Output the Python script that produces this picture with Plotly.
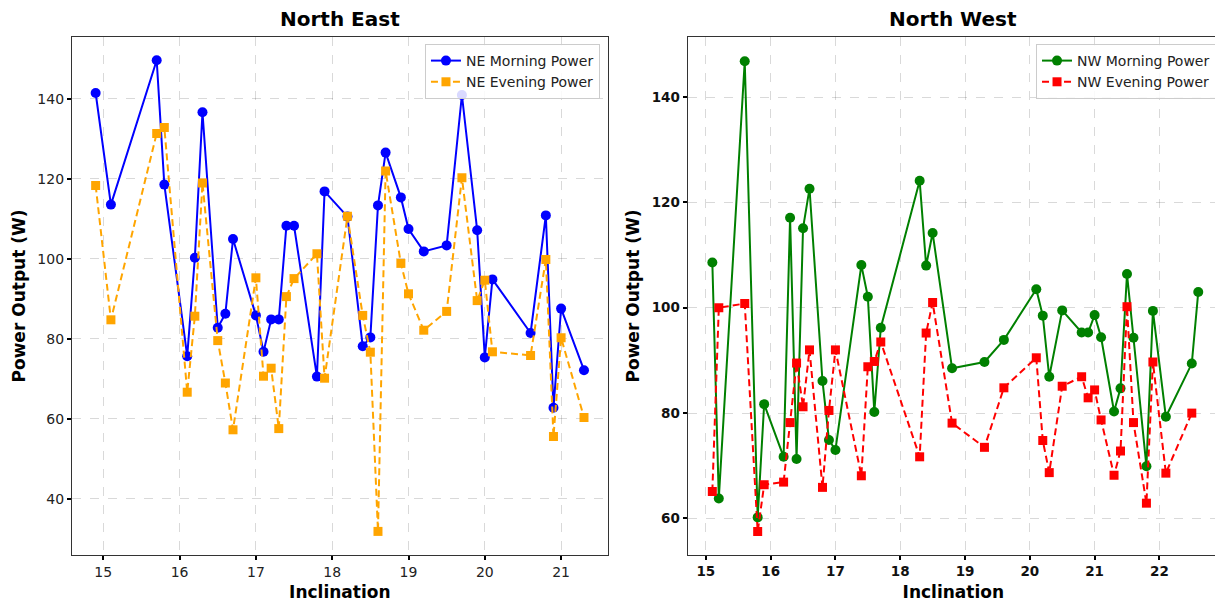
import plotly.graph_objects as go

# ---- North East data ----
ne_x = [14.9, 15.1, 15.7, 15.8, 16.1, 16.2, 16.3, 16.5, 16.6, 16.7, 17.0, 17.1, 17.2, 17.3,
        17.4, 17.5, 17.8, 17.9, 18.2, 18.4, 18.5, 18.6, 18.7, 18.9, 19.0, 19.2, 19.5, 19.7,
        19.9, 20.0, 20.1, 20.6, 20.8, 20.9, 21.0, 21.3]
ne_morning = [141.4, 113.5, 149.6, 118.5, 75.6, 100.2, 136.6, 82.7, 86.2, 104.9, 85.8, 76.7,
              84.8, 84.8, 108.2, 108.2, 70.5, 116.8, 110.5, 78.1, 80.3, 113.3, 126.5, 115.3,
              107.4, 101.8, 103.3, 140.9, 107.1, 75.3, 94.8, 81.4, 110.8, 62.7, 87.5, 72.1]
ne_evening = [118.3, 84.7, 131.3, 132.8, 66.6, 85.6, 118.9, 79.5, 68.9, 57.2, 95.2, 70.6,
              72.6, 57.5, 90.5, 95.0, 101.2, 70.1, 110.6, 85.8, 76.6, 31.8, 121.9, 98.8,
              91.2, 82.1, 86.8, 120.2, 89.5, 94.6, 76.7, 75.8, 99.8, 55.5, 80.2, 60.3]

# ---- North West data ----
nw_x_morning = [15.1, 15.2, 15.6, 15.8, 15.9, 16.2, 16.3, 16.4, 16.5, 16.6, 16.8, 16.9, 17.0,
                17.4, 17.5, 17.6, 17.7, 18.3, 18.4, 18.5, 18.8, 19.3, 19.6, 20.1, 20.2, 20.3,
                20.5, 20.8, 20.9, 21.0, 21.1, 21.3, 21.4, 21.5, 21.6, 21.8, 21.9, 22.1, 22.5, 22.6]
nw_morning = [108.6, 63.8, 146.8, 60.2, 81.7, 71.7, 117.1, 71.3, 115.1, 122.6, 86.1, 74.9, 73.0,
              108.1, 102.1, 80.2, 96.2, 124.1, 108.0, 114.2, 88.5, 89.7, 93.9, 103.5, 98.5, 86.9,
              99.5, 95.3, 95.3, 98.6, 94.4, 80.3, 84.7, 106.4, 94.3, 69.9, 99.4, 79.3, 89.4, 103.0]
nw_x_evening = [15.1, 15.2, 15.6, 15.8, 15.9, 16.2, 16.3, 16.4, 16.5, 16.6, 16.8, 16.9, 17.0,
                17.4, 17.5, 17.6, 17.7, 18.3, 18.4, 18.5, 18.8, 19.3, 19.6, 20.1, 20.2, 20.3,
                20.5, 20.8, 20.9, 21.0, 21.1, 21.3, 21.4, 21.5, 21.6, 21.8, 21.9, 22.1, 22.5]
nw_evening = [65.1, 100.0, 100.8, 57.5, 66.4, 66.9, 78.2, 89.5, 81.2, 92.0, 65.9, 80.5, 92.0,
              68.1, 88.8, 89.8, 93.5, 71.7, 95.2, 101.0, 78.1, 73.5, 84.8, 90.5, 74.8, 68.7,
              85.1, 86.9, 82.9, 84.4, 78.7, 68.2, 72.8, 100.2, 78.2, 62.9, 89.7, 68.6, 80.0]

FONT = "DejaVu Sans"

fig = go.Figure()

fig.add_trace(go.Scatter(x=ne_x, y=ne_morning, mode="lines+markers", name="NE Morning Power",
                         line=dict(color="blue", width=2),
                         marker=dict(symbol="circle", size=10, color="blue"),
                         xaxis="x", yaxis="y", legend="legend"))
fig.add_trace(go.Scatter(x=ne_x, y=ne_evening, mode="lines+markers", name="NE Evening Power",
                         line=dict(color="orange", width=2, dash="7px,4px"),
                         marker=dict(symbol="square", size=9, color="orange"),
                         xaxis="x", yaxis="y", legend="legend"))
fig.add_trace(go.Scatter(x=nw_x_morning, y=nw_morning, mode="lines+markers", name="NW Morning Power",
                         line=dict(color="green", width=2),
                         marker=dict(symbol="circle", size=10, color="green"),
                         xaxis="x2", yaxis="y2", legend="legend2"))
fig.add_trace(go.Scatter(x=nw_x_evening, y=nw_evening, mode="lines+markers", name="NW Evening Power",
                         line=dict(color="red", width=2, dash="7px,4px"),
                         marker=dict(symbol="square", size=9, color="red"),
                         xaxis="x2", yaxis="y2", legend="legend2"))

grid = "rgba(0,0,0,0.15)"
frame = "#333333"

def axis_common():
    return dict(showline=True, linecolor=frame, linewidth=1.2, mirror=True,
                ticks="outside", ticklen=4, tickwidth=1.5, tickcolor="black",
                showgrid=True, gridcolor=grid, griddash="dash", gridwidth=1,
                zeroline=False)

tick_norm = dict(family=FONT, size=14, color="#222")
tick_bold = dict(family=FONT, size=13.5, color="#111", weight="bold")
title_font = dict(family=FONT, size=17, color="black", weight="bold")

fig.update_layout(
    width=1215, height=596,
    margin=dict(l=64, r=4, t=29, b=49),
    paper_bgcolor="white", plot_bgcolor="white",
    font=dict(family=FONT),
    xaxis=dict(domain=[0, 0.467], range=[14.59, 21.61], dtick=1, tick0=15,
               tickfont=tick_norm, title=dict(text="Inclination", font=title_font, standoff=7),
               anchor="y", **axis_common()),
    yaxis=dict(domain=[0, 1], range=[25.9, 155.4], dtick=20, tick0=0,
               tickfont=tick_norm, title=dict(text="Power Output (W)", font=title_font, standoff=7),
               anchor="x", **axis_common()),
    xaxis2=dict(domain=[0.5368, 1], range=[14.72, 22.92], dtick=1, tick0=15,
                tickfont=tick_bold, title=dict(text="Inclination", font=title_font, standoff=7),
                anchor="y2", **axis_common()),
    yaxis2=dict(domain=[0, 1], range=[53.06, 151.4], dtick=20, tick0=0,
                tickfont=tick_bold, title=dict(text="Power Output (W)", font=title_font, standoff=7),
                anchor="x2", **axis_common()),
    legend=dict(x=0.4603, y=0.9865, xanchor="right", yanchor="top",
                bgcolor="rgba(255,255,255,0.85)", bordercolor="#cccccc", borderwidth=1,
                font=dict(family=FONT, size=14, color="#222"), tracegroupgap=0),
    legend2=dict(x=0.9974, y=0.9865, xanchor="right", yanchor="top",
                 bgcolor="rgba(255,255,255,0.85)", bordercolor="#cccccc", borderwidth=1,
                 font=dict(family=FONT, size=14, color="#222"), tracegroupgap=0),
    annotations=[
        dict(text="North East", x=0.2335, y=1, xref="paper", yref="paper",
             xanchor="center", yanchor="bottom", yshift=4, showarrow=False,
             font=dict(family=FONT, size=20, color="black", weight="bold")),
        dict(text="North West", x=0.7684, y=1, xref="paper", yref="paper",
             xanchor="center", yanchor="bottom", yshift=4, showarrow=False,
             font=dict(family=FONT, size=20, color="black", weight="bold")),
    ],
)

fig.write_html("out.html")
